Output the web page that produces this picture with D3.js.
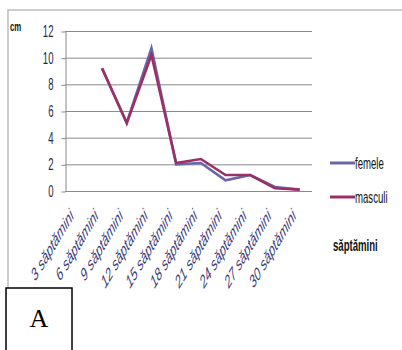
<!DOCTYPE html>
<meta charset="utf-8">
<html>
<head>
<script src="https://cdn.jsdelivr.net/npm/d3@7"></script>
<style>
body { margin:0; background:#fff; }
svg { display:block; }
.y-axis text { font-family:'Liberation Sans', sans-serif; font-size:16px; fill:#1f2a4a; }
.y-axis path { stroke:#8a8a8a; }
.y-axis line { stroke:#8a8a8a; }
.grid line { stroke:#8a8a8a; stroke-width:1; }
.xlab { font-family:'Liberation Sans', sans-serif; font-style:italic; font-size:18px; fill:#3b3b78; }
.leg { font-family:'Liberation Sans', sans-serif; font-size:16px; fill:#111; }
</style>
</head>
<body>
<script>

//Data
var weeks = ["3 săptămini","6 săptămini","9 săptămini","12 săptămini","15 săptămini",
             "18 săptămini","21 săptămini","24 săptămini","27 săptămini","30 săptămini"];
var femele  = [null, 9.2, 5.1, 10.7, 2.0, 2.1, 0.8, 1.2, 0.3, 0.1];
var masculi = [null, 9.2, 5.1, 10.2, 2.1, 2.4, 1.2, 1.2, 0.2, 0.1];
var yTicks = [0, 2, 4, 6, 8, 10, 12];
var series = [
  {name:"femele", values:femele, color:"#6767a8"},
  {name:"masculi", values:masculi, color:"#9c2f66"}
];

var W = 402, H = 350;
var m = {top:31, left:65, right:90, bottom:159};
var sx = 0.6; // horizontal squash of the picture's text

var svg = d3.select("body").append("svg")
    .attr("width", W).attr("height", H);

//outer frame
svg.append("path")
    .attr("d", "M8,360 L8,10 L410,10")
    .attr("fill", "none").attr("stroke", "#bdbdbd").attr("stroke-width", 1.5);

var x = d3.scalePoint()
    .domain(weeks)
    .range([m.left, W - m.right])
    .padding(0.5);

var y = d3.scaleLinear()
    .domain([0, 12])
    .range([H - m.bottom, m.top]);

//gridlines
svg.append("g").attr("class", "grid")
  .selectAll("line").data(yTicks).enter().append("line")
    .attr("x1", m.left).attr("x2", W - m.right)
    .attr("y1", d => y(d) + 0.5).attr("y2", d => y(d) + 0.5);

//Y axis
var ya = svg.append("g")
    .attr("class", "y-axis")
    .attr("transform", `translate(${m.left + 0.5},0.5)`)
    .call(d3.axisLeft(y).tickValues(yTicks).tickSize(4).tickSizeOuter(0).tickPadding(8));
ya.selectAll("text")
    .attr("transform", function() {
      var t = d3.select(this);
      return `translate(${+t.attr("x")},0) scale(${sx},1) translate(${-t.attr("x")},0)`;
    });

//X labels
svg.append("g").selectAll("text").data(weeks).enter().append("text")
    .attr("class", "xlab")
    .attr("text-anchor", "end")
    .attr("transform", d => `translate(${x(d) - 3},${H - m.bottom + 26}) scale(${sx},1) rotate(-45)`)
    .text(d => d);

//lines
var line = d3.line()
    .defined(d => d != null)
    .x((d, i) => x(weeks[i]))
    .y(d => y(d));

svg.append("g").selectAll("path").data(series).enter().append("path")
    .attr("d", d => line(d.values))
    .attr("fill", "none")
    .attr("stroke", d => d.color)
    .attr("stroke-width", 2.6)
    .attr("stroke-linejoin", "miter");

//legend
var leg = svg.append("g").selectAll("g").data(series).enter().append("g")
    .attr("transform", (d, i) => `translate(330,${163 + i * 34})`);
leg.append("line")
    .attr("x1", 0).attr("x2", 25)
    .attr("stroke", d => d.color).attr("stroke-width", 3);
leg.append("text")
    .attr("class", "leg")
    .attr("transform", `translate(25,6) scale(${sx},1)`)
    .text(d => d.name);

//axis titles
svg.append("text")
    .attr("transform", `translate(10,31) scale(${sx},1)`)
    .attr("font-family", "'Liberation Sans', sans-serif")
    .attr("font-weight", "bold").attr("font-size", 13).attr("fill", "#111")
    .text("cm");
svg.append("text")
    .attr("transform", `translate(333,251) scale(${sx},1)`)
    .attr("font-family", "'Liberation Sans', sans-serif")
    .attr("font-weight", "bold").attr("font-size", 16).attr("fill", "#111")
    .text("săptămini");

//box A
svg.append("rect")
    .attr("x", 6).attr("y", 288).attr("width", 66).attr("height", 70)
    .attr("fill", "#fff").attr("stroke", "#000").attr("stroke-width", 1.5);
svg.append("text")
    .attr("x", 39).attr("y", 327)
    .attr("text-anchor", "middle")
    .attr("font-family", "'Liberation Serif', serif")
    .attr("font-size", 26).attr("fill", "#000")
    .text("A");

</script>
</body>
</html>
